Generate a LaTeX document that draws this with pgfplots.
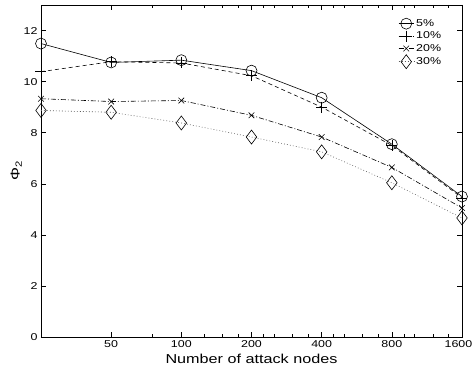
\documentclass[border=0pt]{standalone}
\usepackage{fontspec}
\setmainfont{Liberation Sans}[FakeStretch=1.25]
\usepackage{pgfplots}
\pgfplotsset{compat=1.18}
\begin{document}
\begin{tikzpicture}
\begin{axis}[
  name=ax,
  scale only axis,
  width=421bp, height=332bp,
  xmin=0, xmax=6, ymin=0, ymax=13,
  xtick={1,2,3,4,5,6},
  xticklabels={50,100,200,400,800,\kern-7bp 1600},
  minor xtick={1.585,2.322,2.585,2.807,3.170,3.322,3.585,3.807,4.170,4.322,4.585,4.807,5.170,5.322,5.585,5.807},
  ytick={0,2,4,6,8,10,12},
  yticklabels={0,2,4,6,8,10,12},
  tick align=inside,
  major tick length=5bp, minor tick length=3bp,
  tick style={black, line width=0.5bp},
  axis line style={line width=0.9bp},
  /pgf/number format/assume math mode=true,
  ticklabel style={font=\fontsize{10}{12}\selectfont},
  yticklabel style={xshift=0bp},
  xlabel={Number of attack nodes},
  ylabel={Φ\textsubscript{2}},
  label style={font=\fontsize{13}{15}\selectfont},
  xlabel style={yshift=0bp},
  ylabel style={yshift=-5bp},
  legend style={at={(0.958,0.966)}, anchor=north east, draw=none, fill=none,
    font=\fontsize{10}{11.5}\selectfont, row sep=0bp, inner sep=1bp},
  legend cell align=left,
  legend image code/.code={\draw[mark repeat=2,mark phase=2] plot coordinates {(0cm,0cm)(0.27cm,0cm)(0.54cm,0cm)};},
]
% x index: 0=25, 1=50, 2=100, 3=200, 4=400, 5=800, 6=1600
\addplot[black, line width=0.6bp, mark=o, mark size=5.5bp, mark options={solid}] coordinates {
(0,11.49) (1,10.75) (2,10.84) (3,10.43) (4,9.37) (5,7.55) (6,5.5)};
\addplot[black, line width=0.6bp, dash pattern=on 4bp off 3bp, mark=+, mark size=5.5bp, mark options={solid}] coordinates {
(0,10.39) (1,10.78) (2,10.73) (3,10.23) (4,9.0) (5,7.5) (6,5.45)};
\addplot[black, line width=0.6bp, dash pattern=on 5bp off 2bp on 1bp off 2bp, mark=x, mark size=4bp, mark options={solid}] coordinates {
(0,9.33) (1,9.22) (2,9.26) (3,8.68) (4,7.83) (5,6.64) (6,5.05)};
\addplot[black!65, line width=0.6bp, dash pattern=on 0.8bp off 2.2bp, mark=diamond, mark size=7bp, mark options={solid,black}] coordinates {
(0,8.87) (1,8.8) (2,8.38) (3,7.83) (4,7.25) (5,6.04) (6,4.66)};
\legend{5\%,10\%,20\%,30\%}
\end{axis}
\pgfresetboundingbox
\path[use as bounding box] (-41bp,-38bp) rectangle (433bp,337bp);
\end{tikzpicture}
\end{document}
